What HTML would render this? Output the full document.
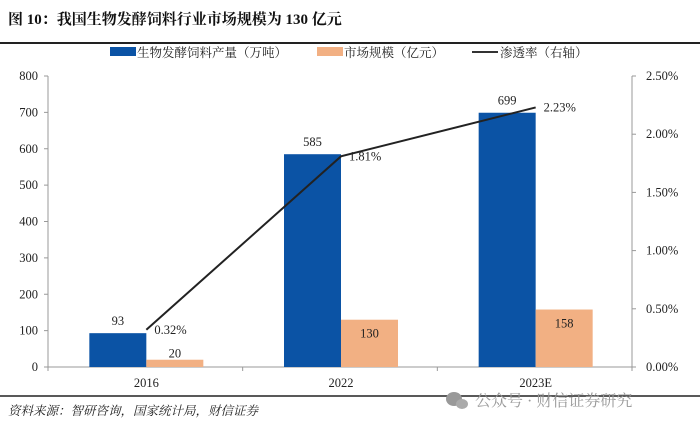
<!DOCTYPE html>
<html><head><meta charset="utf-8"><style>
body{margin:0;background:#fff;width:700px;height:428px;overflow:hidden}
svg text{font-family:"Liberation Serif","Noto Serif CJK SC",serif}
</style></head><body>
<svg width="700" height="428" xmlns="http://www.w3.org/2000/svg">
<text x="8" y="24" font-size="15" font-weight="bold" fill="#111">图 10：我国生物发酵饲料行业市场规模为 130 亿元</text>
<line x1="0" y1="43" x2="700" y2="43" stroke="#222" stroke-width="2"/>
<g font-size="12.5" fill="#222">
<rect x="110" y="47" width="26" height="9" fill="#0b53a5"/>
<text x="137" y="57" font-family="Noto Sans CJK SC,sans-serif">生物发酵饲料产量（万吨）</text>
<rect x="317" y="47" width="26" height="9" fill="#f2b083"/>
<text x="344" y="57" font-family="Noto Sans CJK SC,sans-serif">市场规模（亿元）</text>
<line x1="472" y1="52" x2="498" y2="52" stroke="#333" stroke-width="2"/>
<text x="500" y="57" font-family="Noto Sans CJK SC,sans-serif">渗透率（右轴）</text>
</g>
<g id="plot"></g>
<line x1="0" y1="396" x2="700" y2="396" stroke="#222" stroke-width="1.5"/>
<text x="8" y="415" font-size="12.5" font-style="italic" fill="#222" font-family="Noto Serif CJK SC,serif">资料来源：智研咨询，国家统计局，财信证券</text>
<g fill="#999">
<ellipse cx="454" cy="399" rx="8" ry="7"/>
<ellipse cx="462" cy="404" rx="6" ry="5" fill="#aaa"/>
<text x="475" y="406" font-size="16" font-family="Noto Sans CJK SC,sans-serif">公众号 · 财信证券研究</text>
</g>
</svg>
<script>
const categories=["2016","2022","2023E"];
const production=[93,585,699];
const market=[20,130,158];
const rate=[0.32,1.81,2.23];
const leftTicks=[0,100,200,300,400,500,600,700,800];
const rightTicks=[0,0.5,1,1.5,2,2.5];
const NS="http://www.w3.org/2000/svg";
const g=document.getElementById('plot');
const L=48,R=632,T=76,B=367;
const yL=v=>B-(v/800)*(B-T);
const yR=v=>B-(v/2.5)*(B-T);
const band=(R-L)/categories.length;
const xC=i=>L+band*(i+0.5)+1;
const bw=57;
function mk(tag,a,txt){const e=document.createElementNS(NS,tag);for(const k in a)e.setAttribute(k,a[k]);if(txt!==undefined)e.textContent=txt;g.appendChild(e);return e;}
let e;
e=mk('line',{x1:L,y1:T,x2:L,y2:B,stroke:'#999'});


e=mk('line',{x1:R,y1:T,x2:R,y2:B,stroke:'#999'});


e=mk('line',{x1:L,y1:B,x2:R,y2:B,stroke:'#999'});


leftTicks.forEach(v=>{
 e=mk('line',{x1:L-4,y1:yL(v),x2:L,y2:yL(v),stroke:'#999'});
 
 
 e=mk('text',{x:L-10,y:yL(v)+4,'text-anchor':'end','font-size':12.5,fill:'#222'},v);
 
 
});
rightTicks.forEach(v=>{
 e=mk('line',{x1:R,y1:yR(v),x2:R+4,y2:yR(v),stroke:'#999'});
 
 
 e=mk('text',{x:R+14,y:yR(v)+4,'font-size':12.5,fill:'#222'},v.toFixed(2)+'%');
 
 
});
for(let i=0;i<=categories.length;i++){
 e=mk('line',{x1:L+band*i,y1:B,x2:L+band*i,y2:B+4,stroke:'#999'});
 
 
}
categories.forEach((c,i)=>{
 const x=xC(i);
 e=mk('rect',{x:x-bw,y:yL(production[i]),width:bw,height:B-yL(production[i]),fill:'#0b53a5'});
 
 
 e=mk('rect',{x:x,y:yL(market[i]),width:bw,height:B-yL(market[i]),fill:'#f2b083'});
 
 
 e=mk('text',{x:x-bw/2,y:yL(production[i])-8,'text-anchor':'middle','font-size':12.5,fill:'#222'},production[i]);
 
 
 const inside=(B-yL(market[i]))>30;
 e=mk('text',{x:x+bw/2,y:inside?yL(market[i])+18:yL(market[i])-2,'text-anchor':'middle','font-size':12.5,fill:'#222'},market[i]);
 
 
 e=mk('text',{x:x,y:B+20,'text-anchor':'middle','font-size':12.5,fill:'#222'},c);
 
 
});
e=mk('polyline',{points:rate.map((v,i)=>xC(i)+','+yR(v)).join(' '),fill:'none',stroke:'#222','stroke-width':2});


rate.forEach((v,i)=>{
 e=mk('text',{x:xC(i)+8,y:yR(v)+4,'font-size':12.5,fill:'#222'},v.toFixed(2)+'%');
 
 
});
</script>
</body></html>
